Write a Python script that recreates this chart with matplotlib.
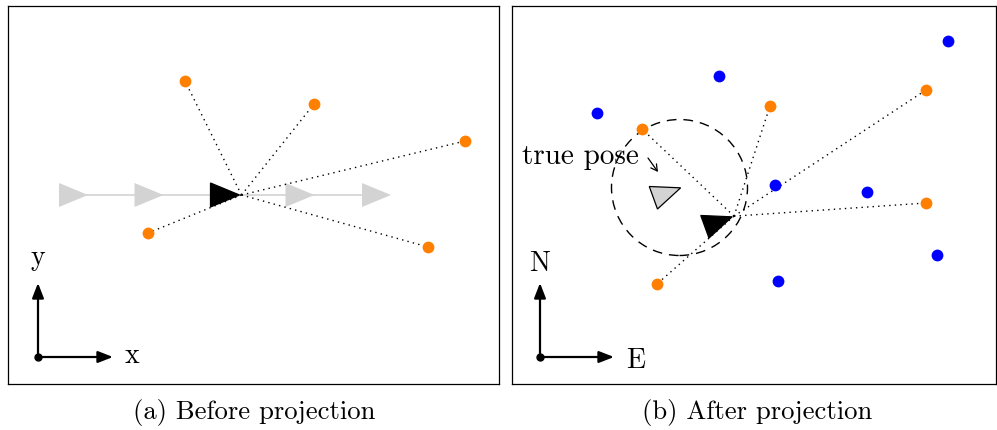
import numpy as np
import matplotlib
matplotlib.use("Agg")
import matplotlib.pyplot as plt
from matplotlib.patches import Polygon, Circle

plt.rcParams["font.family"] = ["cmr10", "DejaVu Serif"]
plt.rcParams["axes.formatter.use_mathtext"] = True

# ---- data (panel units, y pointing up) ----
# (a) trajectory of poses before projection
traj_x = [65.5, 141, 217, 292, 368.5]
traj_y = [189, 189, 189, 189, 189]
traj_heading = [0, 0, 0, 0, 0]
current_idx = 2
lm_a_x = [177, 306, 457, 140, 420]
lm_a_y = [303, 280, 243, 151, 137]

# (b) after projection
blue_x = [85, 207, 436, 263, 355, 425, 266]
blue_y = [271, 308, 343, 199, 192, 129, 103]
lm_b_x = [130, 258, 414, 414, 145]
lm_b_y = [255, 278, 294, 181, 100]
est_pose = (206.5, 162.2, 20)
true_pose = (155, 191.2, 20)
circle_center = (167.5, 196.5)
circle_radius = 68

captions = ["(a) Before projection", "(b) After projection"]
frame_labels_a = ["x", "y"]
frame_labels_b = ["E", "N"]

ORANGE = "#ff8000"
BLUE = "#0000ff"
LIGHT = "#d3d3d3"
TRI_LEN, TRI_W = 29, 24

fig = plt.figure(figsize=(9.97, 4.30), dpi=100)
W, H = 997, 430
ax_a = fig.add_axes([8 / W, (H - 384) / H, 491 / W, 378 / H])
ax_b = fig.add_axes([512 / W, (H - 384) / H, 484 / W, 378 / H])
ax_a.set_xlim(0, 491); ax_a.set_ylim(0, 378)
ax_b.set_xlim(0, 484); ax_b.set_ylim(0, 378)
for ax in (ax_a, ax_b):
    ax.set_xticks([]); ax.set_yticks([])
    for s in ax.spines.values():
        s.set_linewidth(0.9)


def triangle(ax, x, y, heading, face, edge, z=3):
    th = np.deg2rad(heading)
    d = np.array([np.cos(th), np.sin(th)])
    n = np.array([-d[1], d[0]])
    c = np.array([x, y])
    tip = c + d * TRI_LEN / 2
    b1 = c - d * TRI_LEN / 2 + n * TRI_W / 2
    b2 = c - d * TRI_LEN / 2 - n * TRI_W / 2
    ax.add_patch(Polygon([tip, b1, b2], closed=True, facecolor=face,
                         edgecolor=edge, lw=0.9, zorder=z))
    return tip + d * 2


def frame(ax, ox, oy, length_x, length_y, labels, lab_pos):
    kw = dict(arrowstyle="-|>,head_length=0.9,head_width=0.35", lw=1.6,
              color="black", shrinkA=0, shrinkB=0)
    ax.annotate("", xy=(ox + length_x, oy), xytext=(ox, oy), arrowprops=kw)
    ax.annotate("", xy=(ox, oy + length_y), xytext=(ox, oy), arrowprops=kw)
    ax.plot([ox], [oy], "o", color="black", ms=5, zorder=5)
    (lx, ly), (ux, uy) = lab_pos
    ax.text(lx, ly, labels[0], fontsize=20, ha="center", va="baseline")
    ax.text(ux, uy, labels[1], fontsize=20, ha="center", va="baseline")


# ---- panel (a) ----
ax_a.plot(traj_x, traj_y, color=LIGHT, lw=1.2, zorder=1)
for i, (x, y, h) in enumerate(zip(traj_x, traj_y, traj_heading)):
    if i == current_idx:
        continue
    triangle(ax_a, x, y, h, LIGHT, "none", z=2)
hub = triangle(ax_a, traj_x[current_idx], traj_y[current_idx],
               traj_heading[current_idx], "black", "black", z=4)
for x, y in zip(lm_a_x, lm_a_y):
    ax_a.plot([hub[0], x], [hub[1], y], color="black", lw=1.0,
              ls=(0, (1, 3)), zorder=2)
ax_a.plot(lm_a_x, lm_a_y, "o", color=ORANGE, ms=8.5, mew=0, zorder=5)
frame(ax_a, 30, 27, 75, 74, frame_labels_a, [(124, 21), (30, 119)])

# ---- panel (b) ----
ax_b.add_patch(Circle(circle_center, circle_radius, fill=False, lw=1.0,
                      ls=(0, (7, 5)), edgecolor="black", zorder=2))
triangle(ax_b, *true_pose, LIGHT, "black", z=3)
hub_b = triangle(ax_b, *est_pose, "black", "black", z=4)
for x, y in zip(lm_b_x, lm_b_y):
    ax_b.plot([hub_b[0], x], [hub_b[1], y], color="black", lw=1.0,
              ls=(0, (1, 3)), zorder=2)
ax_b.plot(blue_x, blue_y, "o", color=BLUE, ms=8.5, mew=0, zorder=5)
ax_b.plot(lm_b_x, lm_b_y, "o", color=ORANGE, ms=8.5, mew=0, zorder=5)
ax_b.text(10, 220, "true pose", fontsize=21, ha="left", va="baseline")
ax_b.annotate("", xy=(146, 212), xytext=(136, 226),
              arrowprops=dict(arrowstyle="->,head_length=0.45,head_width=0.25",
                              lw=0.9, color="black", shrinkA=0, shrinkB=0))
frame(ax_b, 28, 27, 74, 74, frame_labels_b, [(124, 16), (28, 113)])

fig.text(254 / W, 1 - 412 / H, captions[0], fontsize=19.2, ha="center", va="center")
fig.text(757 / W, 1 - 412 / H, captions[1], fontsize=19.2, ha="center", va="center")

fig.savefig("out.png", dpi=100)
